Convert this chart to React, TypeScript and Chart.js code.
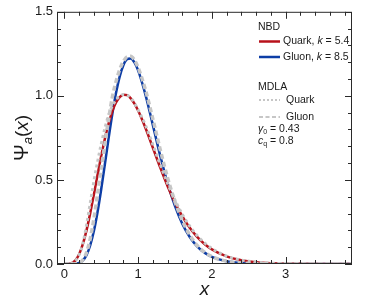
import React, { useEffect, useRef } from "react";
import { Chart, registerables } from "chart.js";

Chart.register(...registerables);

// x positions of the sampled curve points
const xValues = [
  0, 0.05, 0.1, 0.15, 0.2, 0.25, 0.3, 0.35, 0.4, 0.45, 0.5, 0.55, 0.6, 0.65, 0.7, 0.75, 0.8, 0.85, 0.9, 0.95, 1.0,
  1.1, 1.2, 1.3, 1.4, 1.5, 1.6, 1.7, 1.8, 1.9, 2.0,
  2.2, 2.4, 2.6, 2.8, 3.0, 3.2, 3.5, 3.9,
];

const nbdQuark = [
  0, 0.0003, 0.0047, 0.0213, 0.0577, 0.1176, 0.2002, 0.3011, 0.4136, 0.5302, 0.6434, 0.747, 0.8363, 0.9079, 0.9603, 0.993, 1.0071, 1.0038, 0.9854, 0.9543, 0.9129,
  0.8091, 0.6915, 0.5731, 0.4627, 0.3653, 0.2828, 0.2152, 0.1612, 0.1192, 0.0871,
  0.045, 0.0224, 0.0108, 0.0051, 0.0023, 0.0011, 0.0003, 0.0001,
];

const nbdGluon = [
  0, 0, 0.0001, 0.0011, 0.0059, 0.0206, 0.0529, 0.11, 0.1957, 0.3096, 0.446, 0.596, 0.7483, 0.8917, 1.0164, 1.1148, 1.1826, 1.2182, 1.2228, 1.1991, 1.1518,
  1.0061, 0.8259, 0.6434, 0.4794, 0.3438, 0.2384, 0.1606, 0.1054, 0.0676, 0.0424,
  0.0158, 0.0056, 0.0019, 0.0006, 0.0002, 0.0001, 0, 0,
];

const mdlaQuark = [
  0, 0.0002, 0.004, 0.019, 0.055, 0.12, 0.23, 0.36, 0.49, 0.607, 0.714, 0.808, 0.885, 0.939, 0.977, 0.997, 1.008, 1.004, 0.988, 0.958, 0.917,
  0.825, 0.709, 0.591, 0.479, 0.38, 0.295, 0.225, 0.169, 0.125, 0.092,
  0.047, 0.0235, 0.0113, 0.0053, 0.0024, 0.0011, 0.0003, 0.0001,
];

const mdlaGluon = [
  0, 0, 0.0001, 0.0012, 0.0065, 0.024, 0.068, 0.15, 0.268, 0.415, 0.564, 0.717, 0.862, 0.992, 1.085, 1.156, 1.205, 1.232, 1.235, 1.212, 1.168,
  1.035, 0.862, 0.68, 0.512, 0.371, 0.258, 0.172, 0.11, 0.07, 0.044,
  0.016, 0.0057, 0.0019, 0.0006, 0.0002, 0.0001, 0, 0,
];

const xTickLabels = [0, 1, 2, 3];
const yTickLabels = [0, 0.5, 1.0, 1.5];
const xMinorStep = 0.2;
const yMinorStep = 0.1;

const RED = "#b8121b";
const BLUE = "#0d3da6";
const GRAY = "#c6c6c6";
const TEXT = "#1a1a1a";
const SANS = "'Liberation Sans', Arial, sans-serif";

function toPoints(ys: number[]) {
  return xValues.map((x, i) => ({ x, y: ys[i] }));
}

type Part = { text: string; font: string; dy?: number };

function drawRich(ctx: CanvasRenderingContext2D, x: number, y: number, parts: Part[]) {
  let cx = x;
  for (const p of parts) {
    ctx.font = p.font;
    ctx.fillText(p.text, cx, y + (p.dy || 0));
    cx += ctx.measureText(p.text).width;
  }
}

function richWidth(ctx: CanvasRenderingContext2D, parts: Part[]) {
  let w = 0;
  for (const p of parts) {
    ctx.font = p.font;
    w += ctx.measureText(p.text).width;
  }
  return w;
}

const framePlugin = {
  id: "frameTicks",
  afterDatasetsDraw(chart: any) {
    const { ctx, chartArea: a, scales } = chart;
    const xs = scales.x;
    const ys = scales.y;
    ctx.save();
    ctx.strokeStyle = "#2a2a2a";
    ctx.lineWidth = 1;
    ctx.strokeRect(a.left + 0.5, a.top + 0.5, a.right - a.left - 1, a.bottom - a.top - 1);
    ctx.beginPath();
    const nx = Math.floor((xs.max + 1e-9) / xMinorStep);
    for (let i = 0; i <= nx; i++) {
      const v = i * xMinorStep;
      const major = xTickLabels.some((t) => Math.abs(t - v) < 1e-6);
      const len = major ? 7 : 4;
      const px = Math.round(xs.getPixelForValue(v)) + 0.5;
      ctx.moveTo(px, a.bottom);
      ctx.lineTo(px, a.bottom - len);
      ctx.moveTo(px, a.top);
      ctx.lineTo(px, a.top + len);
    }
    const ny = Math.round(ys.max / yMinorStep);
    for (let i = 0; i <= ny; i++) {
      const v = i * yMinorStep;
      const major = yTickLabels.some((t) => Math.abs(t - v) < 1e-6);
      const len = major ? 7 : 4;
      const py = Math.round(ys.getPixelForValue(v)) + 0.5;
      ctx.moveTo(a.left, py);
      ctx.lineTo(a.left + len, py);
      ctx.moveTo(a.right, py);
      ctx.lineTo(a.right - len, py);
    }
    ctx.stroke();
    ctx.restore();
  },
  afterDraw(chart: any) {
    const { ctx, chartArea: a } = chart;
    ctx.save();
    ctx.fillStyle = TEXT;
    ctx.textBaseline = "middle";
    ctx.textAlign = "left";

    const f = `10.5px ${SANS}`;
    const fi = `italic 10.5px ${SANS}`;
    const fs = `7px ${SANS}`;
    const lx0 = 259;
    const lx1 = 280;
    const tx = 283;
    const hx = 258;

    const legendLine = (y: number, color: string, width: number, dash: number[]) => {
      ctx.save();
      ctx.strokeStyle = color;
      ctx.lineWidth = width;
      ctx.setLineDash(dash);
      ctx.beginPath();
      ctx.moveTo(lx0, y);
      ctx.lineTo(lx1, y);
      ctx.stroke();
      ctx.restore();
    };

    drawRich(ctx, hx, 27, [{ text: "NBD", font: f }]);
    legendLine(41.5, RED, 2.5, []);
    drawRich(ctx, tx, 41.5, [
      { text: "Quark, ", font: f },
      { text: "k", font: fi },
      { text: " = 5.4", font: f },
    ]);
    legendLine(57, BLUE, 2.5, []);
    drawRich(ctx, tx, 57, [
      { text: "Gluon, ", font: f },
      { text: "k", font: fi },
      { text: " = 8.5", font: f },
    ]);
    drawRich(ctx, hx, 87, [{ text: "MDLA", font: f }]);
    legendLine(100, GRAY, 2, [2, 2]);
    drawRich(ctx, tx + 3, 100, [{ text: "Quark", font: f }]);
    legendLine(117, GRAY, 2, [4, 2.5]);
    drawRich(ctx, tx + 3, 117, [{ text: "Gluon", font: f }]);
    drawRich(ctx, hx, 129, [
      { text: "γ", font: fi },
      { text: "0", font: fs, dy: 3 },
      { text: " = 0.43", font: f },
    ]);
    drawRich(ctx, hx, 141, [
      { text: "c", font: fi },
      { text: "q", font: fs, dy: 3 },
      { text: " = 0.8", font: f },
    ]);

    // y-axis title
    ctx.save();
    ctx.translate(28, (a.top + a.bottom) / 2);
    ctx.rotate(-Math.PI / 2);
    ctx.textBaseline = "alphabetic";
    const yt: Part[] = [
      { text: "Ψ", font: `20px ${SANS}` },
      { text: "a", font: `italic 13px ${SANS}`, dy: 4 },
      { text: "(", font: `19px ${SANS}` },
      { text: "x", font: `italic 19px ${SANS}` },
      { text: ")", font: `19px ${SANS}` },
    ];
    drawRich(ctx, -richWidth(ctx, yt) / 2, 0, yt);
    ctx.restore();

    // x-axis title
    ctx.textAlign = "center";
    ctx.font = `italic 19px ${SANS}`;
    ctx.fillText("x", (a.left + a.right) / 2, 290);
    ctx.restore();
  },
};

export default function App() {
  const canvasRef = useRef<HTMLCanvasElement | null>(null);

  useEffect(() => {
    document.body.style.margin = "0";
    const canvas = canvasRef.current;
    if (!canvas) return;
    const tickFont = { family: SANS, size: 13 };
    const chart = new Chart(canvas, {
      type: "line",
      data: {
        datasets: [
          {
            label: "MDLA Quark",
            data: toPoints(mdlaQuark),
            borderColor: GRAY,
            borderWidth: 3,
            borderDash: [3, 3],
            pointRadius: 0,
            cubicInterpolationMode: "monotone",
            order: 0,
          },
          {
            label: "MDLA Gluon",
            data: toPoints(mdlaGluon),
            borderColor: GRAY,
            borderWidth: 3.5,
            borderDash: [5, 3],
            pointRadius: 0,
            cubicInterpolationMode: "monotone",
            order: 0,
          },
          {
            label: "NBD Quark, k = 5.4",
            data: toPoints(nbdQuark),
            borderColor: RED,
            borderWidth: 2.5,
            pointRadius: 0,
            cubicInterpolationMode: "monotone",
            order: 1,
          },
          {
            label: "NBD Gluon, k = 8.5",
            data: toPoints(nbdGluon),
            borderColor: BLUE,
            borderWidth: 2.5,
            pointRadius: 0,
            cubicInterpolationMode: "monotone",
            order: 1,
          },
        ],
      },
      options: {
        animation: false,
        responsive: false,
        maintainAspectRatio: false,
        layout: { padding: { top: 10, right: 19, left: 0, bottom: 0 } },
        plugins: { legend: { display: false }, tooltip: { enabled: false } },
        scales: {
          x: {
            type: "linear",
            min: -0.1,
            max: 3.9,
            grid: { display: false, drawTicks: false },
            border: { display: false },
            ticks: { font: tickFont, color: TEXT, padding: 3, maxRotation: 0, callback: (v: any) => String(v) },
            afterBuildTicks: (s: any) => {
              s.ticks = xTickLabels.map((v) => ({ value: v }));
            },
            afterFit: (s: any) => {
              s.height = 40;
            },
          },
          y: {
            type: "linear",
            min: 0,
            max: 1.5,
            grid: { display: false, drawTicks: false },
            border: { display: false },
            ticks: { font: tickFont, color: TEXT, padding: 4, callback: (v: any) => Number(v).toFixed(1) },
            afterBuildTicks: (s: any) => {
              s.ticks = yTickLabels.map((v) => ({ value: v }));
            },
            afterFit: (s: any) => {
              s.width = 57;
            },
          },
        },
      } as any,
      plugins: [framePlugin],
    });
    return () => chart.destroy();
  }, []);

  return (
    <div style={{ position: "absolute", left: 0, top: 0, width: 371, height: 304 }}>
      <canvas ref={canvasRef} width={371} height={304} style={{ width: 371, height: 304 }} />
    </div>
  );
}
